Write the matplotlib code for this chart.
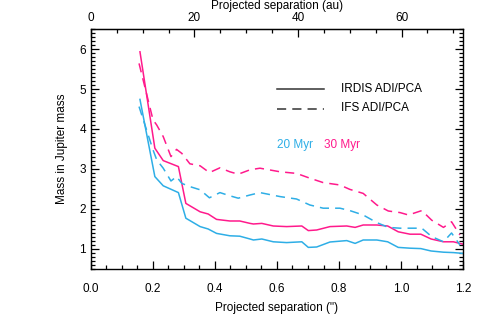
import numpy as np
import matplotlib.pyplot as plt
from matplotlib.ticker import MultipleLocator, FixedLocator

plt.rcParams['font.family'] = ['Liberation Sans', 'DejaVu Sans']

# Kolory krzywych
cyan = '#2eaee6'
magenta = '#ff1a8c'

# IRDIS ADI/PCA (linia ciagla)
sep_irdis = [0.158, 0.206, 0.233, 0.282, 0.306, 0.352, 0.378, 0.405, 0.448, 0.48,
             0.513, 0.524, 0.551, 0.588, 0.631, 0.68, 0.701, 0.728, 0.771, 0.825,
             0.852, 0.878, 0.922, 0.957, 0.991, 1.029, 1.064, 1.097, 1.137, 1.169, 1.2]
irdis_20 = [4.74, 2.81, 2.58, 2.41, 1.77, 1.56, 1.50, 1.39, 1.33, 1.32,
            1.25, 1.225, 1.25, 1.18, 1.16, 1.18, 1.04, 1.05, 1.175, 1.21,
            1.14, 1.225, 1.225, 1.18, 1.04, 1.02, 1.01, 0.95, 0.92, 0.91, 0.89]
irdis_30 = [5.93, 3.52, 3.21, 3.06, 2.14, 1.93, 1.875, 1.74, 1.70, 1.70,
            1.64, 1.625, 1.64, 1.575, 1.56, 1.575, 1.46, 1.475, 1.56, 1.575,
            1.54, 1.60, 1.60, 1.575, 1.43, 1.37, 1.37, 1.25, 1.18, 1.18, 1.12]

# IFS ADI/PCA (linia przerywana)
sep_ifs = [0.155, 0.2, 0.212, 0.233, 0.258, 0.276, 0.293, 0.319, 0.352, 0.382,
           0.416, 0.448, 0.475, 0.513, 0.545, 0.61, 0.663, 0.706, 0.749, 0.803,
           0.835, 0.878, 0.922, 0.959, 0.997, 1.024, 1.067, 1.099, 1.137, 1.163, 1.19]
ifs_20 = [4.56, 3.48, 3.23, 3.02, 2.70, 2.81, 2.64, 2.56, 2.48, 2.28,
          2.41, 2.33, 2.27, 2.35, 2.41, 2.31, 2.25, 2.10, 2.02, 2.02,
          1.96, 1.85, 1.66, 1.54, 1.52, 1.52, 1.52, 1.31, 1.18, 1.40, 1.10]
ifs_30 = [5.64, 4.23, 4.10, 3.81, 3.31, 3.49, 3.39, 3.13, 3.08, 2.91,
          3.03, 2.93, 2.87, 2.98, 3.02, 2.93, 2.89, 2.77, 2.66, 2.60,
          2.49, 2.39, 2.10, 1.95, 1.91, 1.85, 1.96, 1.72, 1.54, 1.68, 1.35]

au_ticks = [0, 20, 40, 60]
dist_pc = 59.9  # przeliczenie arcsec -> au

fig = plt.figure(figsize=(4.91, 3.27), dpi=100)
ax = fig.add_axes([0.1853, 0.1774, 0.7577, 0.7339])

dash = (0, (6, 4))
ax.plot(sep_irdis, irdis_20, color=cyan, lw=1.1)
ax.plot(sep_irdis, irdis_30, color=magenta, lw=1.1)
ax.plot(sep_ifs, ifs_20, color=cyan, lw=1.1, linestyle=dash)
ax.plot(sep_ifs, ifs_30, color=magenta, lw=1.1, linestyle=dash)

ax.set_xlim(0, 1.2)
ax.set_ylim(0.5, 6.5)
ax.xaxis.set_major_locator(MultipleLocator(0.2))
ax.xaxis.set_minor_locator(MultipleLocator(0.05))
ax.yaxis.set_major_locator(MultipleLocator(1))
ax.yaxis.set_minor_locator(MultipleLocator(0.1))
ax.xaxis.set_major_formatter(plt.FormatStrFormatter('%.1f'))
ax.tick_params(which='both', direction='in', top=False, right=True, labelsize=8.5, width=0.9)
ax.tick_params(which='major', length=6)
ax.tick_params(which='minor', length=3)
ax.tick_params(axis='x', pad=10)
for s in ax.spines.values():
    s.set_linewidth(1.0)

ax.set_xlabel('Projected separation (")', fontsize=8.5, labelpad=5)
ax.set_ylabel('Mass in Jupiter mass', fontsize=8.5, labelpad=8)

top = ax.secondary_xaxis('top', functions=(lambda x: x * dist_pc, lambda a: a / dist_pc))
top.xaxis.set_major_locator(FixedLocator(au_ticks))
top.xaxis.set_minor_locator(FixedLocator(list(range(0, 75, 5))))
top.tick_params(which='both', direction='in', labelsize=8.5, width=0.9)
top.tick_params(which='major', length=6)
top.tick_params(which='minor', length=3)
top.set_xlabel('Projected separation (au)', fontsize=8.5, labelpad=2)

# Legenda narysowana recznie
ax.plot([0.6, 0.75], [5.0, 5.0], color='#333333', lw=1.1)
ax.plot([0.6, 0.75], [4.5, 4.5], color='#333333', lw=1.1, linestyle=dash)
ax.text(0.805, 5.0, 'IRDIS ADI/PCA', fontsize=8.5, va='center')
ax.text(0.805, 4.53, 'IFS ADI/PCA', fontsize=8.5, va='center')
ax.text(0.6, 3.6, '20 Myr', fontsize=8.5, color=cyan, va='center')
ax.text(0.75, 3.6, '30 Myr', fontsize=8.5, color=magenta, va='center')

plt.savefig('out.png', dpi=100)
